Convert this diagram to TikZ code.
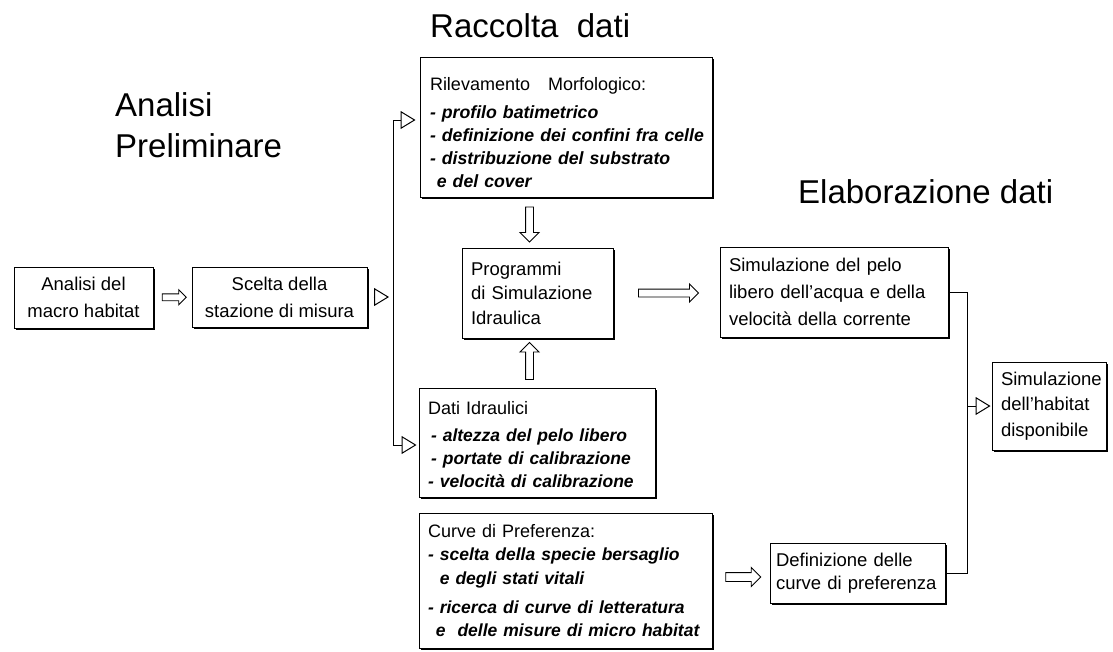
\documentclass[tikz,border=0pt]{standalone}
\usepackage{fontspec}
\setmainfont{Liberation Sans}
\usetikzlibrary{arrows.meta,shapes.arrows,shadows,calc}

\begin{document}
\begin{tikzpicture}[
    x=1pt, y=-1pt,
    box/.style={draw, line width=1pt, fill=white, inner xsep=9pt, inner ysep=0pt,
        align=left, font=\fontsize{18}{23}\selectfont,
        drop shadow={shadow xshift=1.6pt, shadow yshift=-1.6pt, opacity=1, fill=black}},
    cbox/.style={box, align=center, font=\fontsize{18.5}{27}\selectfont},
    heading/.style={anchor=base west, font=\fontsize{33}{41}\selectfont, inner sep=0pt, align=left},
    fat/.style 2 args={single arrow, draw, line width=0.9pt, fill=white,
        inner sep=#1, single arrow head extend=#2},
    tipline/.style={line width=1pt, -{Triangle[open, length=15pt, width=18pt, line width=1pt]}},
    link/.style={line width=1pt},
]
\useasboundingbox (0,0) rectangle (1113,651);

% Titles
\node[heading] (traccolta) at (430,37) {Raccolta\ \ dati};
\node[heading] (tanalisi) at (115,157) {Analisi\\Preliminare};
\node[heading] (telab) at (798,203) {Elaborazione dati};

% Boxes
\node[cbox, minimum width=139pt, minimum height=61pt] (amacro) at (83.5,297.5)
    {Analisi del\\macro habitat};
\node[cbox, minimum width=175pt, minimum height=60pt] (bscelta) at (279.5,297)
    {Scelta della\\stazione di misura};
\node[box, text width=282pt, minimum height=140pt, inner xsep=5pt] (rilievo) at (566,127)
    {\leftskip=5pt\rule{0pt}{25pt}Rilevamento\ \ \ Morfologico:\\[5pt]
     \fontsize{17.7}{23}\selectfont\bfseries\itshape
     - profilo batimetrico\\
     - definizione dei confini fra celle\\
     - distribuzione del substrato\\
     \phantom{- }e del cover};
\node[box, text width=133pt, minimum height=90pt, font=\fontsize{18.5}{24.5}\selectfont] (prog) at (537.5,293)
    {Programmi\\di Simulazione\\Idraulica};
\node[box, text width=218pt, minimum height=109pt] (dati) at (537,442.5)
    {\rule{0pt}{17pt}Dati Idraulici\\[5pt]
     \fontsize{17.5}{22.5}\selectfont\bfseries\itshape
     \hspace*{3pt}- altezza del pelo libero\\
     \hspace*{3pt}- portate di calibrazione\\
     - velocità di calibrazione};
\node[box, text width=283pt, minimum height=135pt, inner xsep=5pt] (cpref) at (565.5,580.5)
    {\leftskip=4pt Curve di Preferenza:\\
     \fontsize{17.5}{23.5}\selectfont\bfseries\itshape
     - scelta della specie bersaglio\\
     \phantom{- }e degli stati vitali\\[6pt]
     - ricerca di curve di letteratura\\
     \phantom{- }e\ \ delle misure di micro habitat};
\node[box, text width=210pt, minimum height=90pt, font=\fontsize{18.5}{27}\selectfont] (sim) at (834,292)
    {Simulazione del pelo\\libero dell'acqua e della\\velocità della corrente};
\node[box, text width=163pt, minimum height=60pt, inner xsep=6pt, font=\fontsize{18.5}{23}\selectfont] (fdef) at (857.5,573)
    {Definizione delle\\curve di preferenza};
\node[box, text width=96pt, minimum height=88pt, font=\fontsize{18.5}{25.5}\selectfont] (hab) at (1049,406)
    {Simulazione\\dell'habitat\\disponibile};

% Fat hollow arrows
\path (amacro.east) -- node[fat={3pt}{4pt}, minimum height=24pt] {} (bscelta.west);
\path (rilievo.south -| prog.north) -- node[fat={3.5pt}{5.5pt}, xshift=-8pt, shape border rotate=270,
    minimum height=35pt] {} (prog.north);
\path (prog.south) -- node[fat={3.5pt}{5.5pt}, xshift=-8pt, shape border rotate=90,
    minimum height=37pt] {} (dati.north -| prog.south);
\path (prog.east) -- node[fat={3.5pt}{5pt}, minimum height=60pt] {} (prog.east -| sim.west);
\path (cpref.east |- fdef.west) -- node[fat={4pt}{5pt}, yshift=-4pt, minimum height=35pt] {} (fdef.west);

% Branching lines
\coordinate (sptop) at (393,120);
\coordinate (spbot) at (393,445);
\coordinate (rail) at (967,292);
\draw[tipline, shorten <=6pt, shorten >=4pt] (bscelta.east) -- (bscelta.east -| sptop);
\draw[tipline, shorten >=4pt] (sptop) -- (sptop -| rilievo.west);
\draw[link] (sptop) -- (spbot);
\draw[tipline, shorten >=2pt] (spbot) -- (spbot -| dati.west);
\draw[link] (sim.east) -- (rail) -- (rail |- fdef.east) -- (fdef.east);
\draw[tipline, shorten >=1pt] (rail |- hab.west) -- (hab.west);

\end{tikzpicture}
\end{document}
